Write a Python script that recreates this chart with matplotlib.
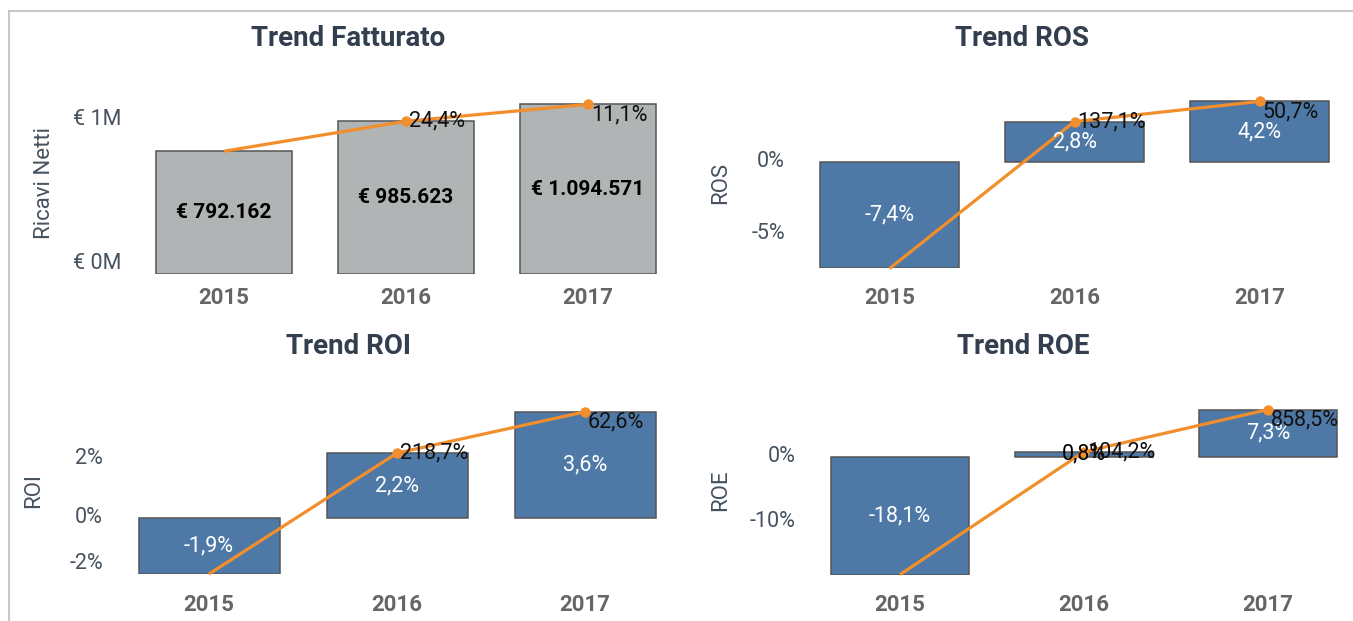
import matplotlib
matplotlib.use("Agg")
import matplotlib.pyplot as plt
from matplotlib import transforms
from matplotlib.lines import Line2D

# dati
anni = ["2015", "2016", "2017"]
fatturato = [792162, 985623, 1094571]
fatturato_cresc = [None, 24.4, 11.1]
ros = [-7.4, 2.8, 4.2]
ros_cresc = [None, 137.1, 50.7]
roi = [-1.9, 2.2, 3.6]
roi_cresc = [None, 218.7, 62.6]
roe = [-18.1, 0.8, 7.3]
roe_cresc = [None, 104.2, 858.5]

W, H = 1353, 621
plt.rcParams["font.family"] = ["Roboto", "DejaVu Sans"]

BLU = "#4e79a7"
GRIGIO = "#b1b4b4"
ARANCIO = "#f28e2b"
TITOLO = "#333e4f"
TESTO = "#46525f"

fig = plt.figure(figsize=(W / 100, H / 100), dpi=100)


def px(x, y):
    return x / W, 1 - y / H


def fmt_pct(v):
    return "{:.1f}%".format(v).replace(".", ",")


def fmt_eur(v):
    return "€ " + "{:,}".format(v).replace(",", ".")


def pannello(rect, ylim, valori, cresc, ticks, tick_lab, colore, titolo, ylabel,
             pos_titolo, pos_ylabel, y_anni, eur=False):
    l, t, r, b = rect
    x0, y0 = px(l, b)
    x1, y1 = px(r, t)
    ax = fig.add_axes([x0, y0, x1 - x0, y1 - y0])
    ax.set_xlim(-0.5, 2.5)
    ax.set_ylim(*ylim)
    ax.axis("off")
    xs = list(range(len(valori)))
    ax.bar(xs, valori, width=0.75, color=colore, edgecolor="#555555", linewidth=1.1,
           zorder=2)
    ax.plot(xs, valori, color=ARANCIO, linewidth=2.3, zorder=3, clip_on=False,
            solid_capstyle="butt")
    ax.plot(xs[1:], valori[1:], "o", color=ARANCIO, markersize=6.5, zorder=4,
            clip_on=False)

    rng = ylim[1] - ylim[0]
    for i, v in enumerate(valori):
        if eur:
            ax.text(i, v / 2, fmt_eur(v), ha="center", va="center", fontsize=15,
                    fontweight="bold", color="black", zorder=5)
        else:
            col = "white" if abs(v) > 0.08 * rng else "black"
            ax.text(i, v / 2, fmt_pct(v), ha="center", va="center", fontsize=15.5,
                    color=col, zorder=5)
    off = transforms.offset_copy(ax.transData, fig=fig, x=3, y=0, units="dots")
    for i, g in enumerate(cresc):
        if g is None:
            continue
        va = "top" if i == len(cresc) - 1 else "center"
        ax.text(i, valori[i], fmt_pct(g), ha="left", va=va, fontsize=15.5,
                color="#111111", transform=off, zorder=6)

    # etichette asse y
    tr = transforms.offset_copy(
        transforms.blended_transform_factory(ax.transAxes, ax.transData),
        fig=fig, x=-12, y=0, units="dots")
    for tk, lab in zip(ticks, tick_lab):
        if tk <= ylim[0] + 0.01 * rng:
            ax.text(0, ylim[0], lab, ha="right", va="bottom", fontsize=15.5,
                    color=TESTO, transform=tr, clip_on=False)
        else:
            ax.text(0, tk, lab, ha="right", va="center", fontsize=15.5,
                    color=TESTO, transform=tr, clip_on=False)

    tr_anni = transforms.blended_transform_factory(ax.transData, fig.transFigure)
    for i, a in enumerate(anni):
        ax.text(i, 1 - y_anni / H, a, ha="center", va="center", fontsize=16,
                fontweight="bold", color="#666666", transform=tr_anni)

    fig.text(*px(*pos_titolo), titolo, ha="center", va="center", fontsize=20,
             fontweight="bold", color=TITOLO)
    fig.text(*px(*pos_ylabel), ylabel, ha="center", va="center", fontsize=16,
             rotation=90, color=TESTO)
    return ax


pannello((133, 100, 679, 274), (0, 1.1226e6), fatturato, fatturato_cresc,
         [0, 1e6], ["€ 0M", "€ 1M"], GRIGIO, "Trend Fatturato", "Ricavi Netti",
         (348, 39), (45, 183), 298, eur=True)
pannello((797, 100, 1352, 268.5), (-7.4, 4.3), ros, ros_cresc,
         [-5, 0], ["-5%", "0%"], BLU, "Trend ROS", "ROS",
         (1022, 39), (721, 183), 298)
pannello((115, 405, 679, 574), (-1.9, 3.83), roi, roi_cresc,
         [-2, 0, 2], ["-2%", "0%", "2%"], BLU, "Trend ROI", "ROI",
         (348, 346), (34, 490), 605)
pannello((808, 405, 1360, 574.6), (-18.1, 8.0), roe, roe_cresc,
         [-10, 0], ["-10%", "0%"], BLU, "Trend ROE", "ROE",
         (1023, 346), (721, 490), 605)

# cornice
fig.add_artist(Line2D([9 / W, 1], [1 - 11 / H, 1 - 11 / H], color="#c8c8c8",
                      linewidth=1.5, transform=fig.transFigure))
fig.add_artist(Line2D([9 / W, 9 / W], [1 - 11 / H, 0], color="#c8c8c8",
                      linewidth=1.5, transform=fig.transFigure))

fig.savefig("out.png", dpi=100, facecolor="white")
